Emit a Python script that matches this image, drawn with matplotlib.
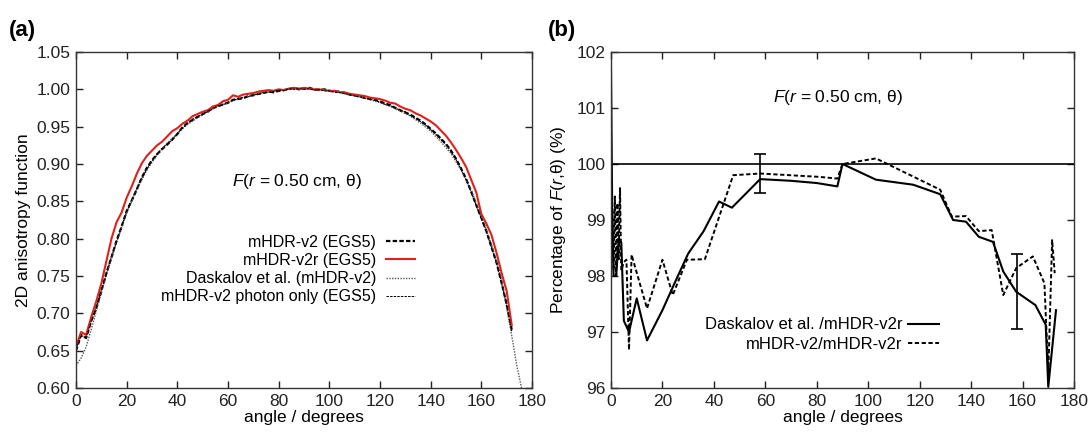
import matplotlib
matplotlib.use('Agg')
import matplotlib.pyplot as plt

plt.rcParams['font.family'] = ['Liberation Sans', 'DejaVu Sans']
plt.rcParams['mathtext.fontset'] = 'custom'
plt.rcParams['mathtext.rm'] = 'Liberation Sans'
plt.rcParams['mathtext.it'] = 'Liberation Sans:italic'

# ---- panel (a): 2D anisotropy function ----
angle = list(range(0, 173, 2))

mhdr_v2 = [0.650, 0.671, 0.667, 0.690, 0.707, 0.730, 0.754, 0.775, 0.797, 0.816,
           0.837, 0.851, 0.866, 0.882, 0.895, 0.905, 0.913, 0.920, 0.926, 0.933,
           0.940, 0.949, 0.955, 0.959, 0.963, 0.967, 0.970, 0.975, 0.977, 0.980,
           0.982, 0.986, 0.987, 0.988, 0.991, 0.992, 0.994, 0.995, 0.997, 0.996,
           0.998, 0.999, 1.000, 1.002, 1.000, 1.001, 1.002, 1.000, 0.999, 1.000,
           0.998, 0.997, 0.997, 0.995, 0.993, 0.992, 0.990, 0.989, 0.987, 0.986,
           0.984, 0.981, 0.979, 0.975, 0.972, 0.969, 0.966, 0.962, 0.958, 0.953,
           0.947, 0.941, 0.934, 0.927, 0.918, 0.907, 0.894, 0.880, 0.863, 0.845,
           0.828, 0.810, 0.789, 0.768, 0.741, 0.712, 0.678]

mhdr_v2r = [0.655, 0.675, 0.671, 0.695, 0.716, 0.740, 0.770, 0.800, 0.822, 0.835,
            0.855, 0.870, 0.887, 0.901, 0.911, 0.918, 0.925, 0.930, 0.937, 0.944,
            0.948, 0.954, 0.958, 0.964, 0.967, 0.970, 0.972, 0.977, 0.979, 0.984,
            0.986, 0.992, 0.990, 0.993, 0.994, 0.995, 0.997, 0.998, 0.999, 0.998,
            1.000, 0.999, 1.001, 1.002, 1.001, 1.002, 1.001, 1.000, 1.000, 0.999,
            0.998, 0.998, 0.996, 0.996, 0.994, 0.993, 0.992, 0.991, 0.989, 0.988,
            0.987, 0.985, 0.982, 0.981, 0.977, 0.974, 0.972, 0.968, 0.965, 0.961,
            0.957, 0.952, 0.945, 0.938, 0.929, 0.919, 0.908, 0.896, 0.879, 0.862,
            0.833, 0.820, 0.805, 0.781, 0.754, 0.730, 0.684]

photon_only = [0.652, 0.670, 0.668, 0.689, 0.708, 0.731, 0.753, 0.776, 0.796, 0.817,
               0.836, 0.852, 0.867, 0.881, 0.894, 0.904, 0.914, 0.921, 0.927, 0.932,
               0.941, 0.948, 0.954, 0.960, 0.964, 0.966, 0.971, 0.974, 0.978, 0.979,
               0.983, 0.985, 0.988, 0.989, 0.990, 0.993, 0.993, 0.996, 0.996, 0.997,
               0.999, 0.998, 1.001, 1.000, 1.001, 1.000, 1.001, 0.999, 1.000, 0.998,
               0.998, 0.996, 0.996, 0.994, 0.993, 0.991, 0.990, 0.988, 0.987, 0.985,
               0.983, 0.980, 0.978, 0.976, 0.971, 0.970, 0.965, 0.961, 0.957, 0.952,
               0.946, 0.940, 0.933, 0.926, 0.917, 0.906, 0.893, 0.879, 0.862, 0.844,
               0.827, 0.809, 0.788, 0.767, 0.740, 0.711, 0.676]

dask_angle = [0, 2, 4, 6, 8, 12, 16, 20, 24, 28, 32, 36, 40, 44, 48, 52, 56, 60,
              64, 68, 72, 76, 80, 84, 88, 92, 96, 100, 104, 108, 112, 116, 120,
              124, 128, 132, 136, 140, 144, 148, 152, 156, 160, 164, 168, 172,
              174, 176]
daskalov = [0.630, 0.640, 0.655, 0.678, 0.703, 0.752, 0.795, 0.834, 0.866, 0.892,
            0.912, 0.928, 0.941, 0.953, 0.962, 0.970, 0.977, 0.982, 0.987, 0.991,
            0.994, 0.997, 0.999, 1.000, 1.000, 1.000, 0.999, 0.998, 0.996, 0.993,
            0.990, 0.986, 0.982, 0.977, 0.971, 0.964, 0.955, 0.944, 0.930, 0.914,
            0.892, 0.865, 0.830, 0.793, 0.745, 0.670, 0.630, 0.598]

# ---- panel (b): ratios in percent ----
dask_ratio_angle = [0, 0.5, 1, 2, 3, 4, 5, 6, 7, 10, 14, 20, 25, 30, 36, 42, 47,
                    58, 70, 80, 88, 90, 103, 117.5, 128, 133, 138, 143, 148.5,
                    152.5, 157.5, 165, 169, 170, 173]
dask_ratio = [101.7, 99.0, 98.0, 98.0, 98.65, 98.6, 97.2, 97.1, 97.0, 97.6, 96.85,
              97.39, 97.9, 98.4, 98.8, 99.33, 99.22, 99.73, 99.7, 99.66, 99.6,
              100.0, 99.72, 99.63, 99.46, 99.0, 98.97, 98.7, 98.61, 98.08, 97.72,
              97.48, 97.13, 96.02, 97.39]

v2_ratio_angle = [0, 0.5, 1, 1.5, 2, 2.5, 3, 3.5, 4, 5, 6, 7, 8, 14, 20, 24, 29.5,
                  36.5, 47.5, 58, 81, 88, 90, 103, 128, 132.5, 138, 143, 148,
                  152.5, 157.5, 164, 168.5, 170, 171.5, 172.5]
v2_ratio = [98.4, 99.2, 98.1, 99.42, 98.0, 99.3, 98.3, 99.57, 98.1, 98.25, 98.29,
            96.68, 98.38, 97.42, 98.29, 97.66, 98.29, 98.3, 99.8, 99.83, 99.77,
            99.74, 100.0, 100.1, 99.54, 99.06, 99.07, 98.8, 98.82, 97.66, 98.14,
            98.35, 97.87, 96.26, 98.64, 98.05]

err_angle = [58, 158]
err_value = [99.83, 97.73]
err_size = [0.35, 0.67]

fig = plt.figure(figsize=(10.89, 4.34), dpi=100)
ax1 = fig.add_axes([76 / 1089, 46 / 434, 456 / 1089, 336 / 434])
ax2 = fig.add_axes([611 / 1089, 46 / 434, 463 / 1089, 336 / 434])

ax1.plot(angle, mhdr_v2, color='black', ls=(0, (2.0, 1.0)), lw=1.6, label='mHDR-v2 (EGS5)')
ax1.plot(angle, mhdr_v2r, color='#e0201b', lw=1.5, label='mHDR-v2r (EGS5)')
ax1.plot(dask_angle, daskalov, color='#555555', ls=(0, (1, 1)), lw=1.0,
         label='Daskalov et al. (mHDR-v2)')
ax1.plot(angle, photon_only, color='black', ls=(0, (2.5, 1.2)), lw=0.7,
         label='mHDR-v2 photon only (EGS5)')

ax1.set_xlim(0, 180)
ax1.set_ylim(0.60, 1.05)
ax1.set_xticks(range(0, 181, 20))
ax1.set_yticks([0.60 + 0.05 * i for i in range(10)])
ax1.set_yticklabels(['%.2f' % (0.60 + 0.05 * i) for i in range(10)])
ax1.set_xlabel('angle / degrees', fontsize=12.5, labelpad=1)
ax1.set_ylabel('2D anisotropy function', fontsize=12.5, labelpad=4)
ax1.text(0.342, 0.615, r'$F$($r$ = 0.50 cm, θ)', transform=ax1.transAxes,
         fontsize=12.5, ha='left', va='center')
ax1.legend(loc='upper right', bbox_to_anchor=(0.76, 0.48), frameon=False,
           markerfirst=False, fontsize=11.5, handlelength=1.8, handletextpad=0.6,
           labelspacing=0.2, borderpad=0)
fig.text(0.008, 0.93, '(a)', fontsize=16, fontweight='bold', va='center')

ax2.axhline(100, color='black', lw=1.2)
ax2.plot(dask_ratio_angle, dask_ratio, color='black', lw=1.5,
         label='Daskalov et al. /mHDR-v2r')
ax2.plot(v2_ratio_angle, v2_ratio, color='black', ls=(0, (2.2, 1.3)), lw=1.4,
         label='mHDR-v2/mHDR-v2r')
ax2.errorbar(err_angle, err_value, yerr=err_size, fmt='none', ecolor='black',
             elinewidth=1.2, capsize=4, capthick=1.2)
ax2.set_xlim(0, 180)
ax2.set_ylim(96, 102)
ax2.set_xticks(range(0, 181, 20))
ax2.set_yticks(range(96, 103))
ax2.set_xlabel('angle / degrees', fontsize=12.5, labelpad=1)
ax2.set_ylabel(r'Percentage of $F$($r$,θ) (%)', fontsize=12.5, labelpad=6)
ax2.text(0.35, 0.866, r'$F$($r$ = 0.50 cm, θ)', transform=ax2.transAxes,
         fontsize=12.5, ha='left', va='center')
ax2.legend(loc='upper right', bbox_to_anchor=(0.727, 0.235), frameon=False,
           markerfirst=False, fontsize=12, handlelength=1.9, handletextpad=0.3,
           labelspacing=0.25, borderpad=0)
fig.text(0.503, 0.93, '(b)', fontsize=16, fontweight='bold', va='center')

for ax in (ax1, ax2):
    ax.tick_params(direction='in', top=True, right=True, length=5, width=1,
                   labelsize=12.5, colors='#222222', pad=4)
    for sp in ax.spines.values():
        sp.set_color('#333333')
        sp.set_linewidth(1.0)

fig.savefig('out.png', dpi=100)
